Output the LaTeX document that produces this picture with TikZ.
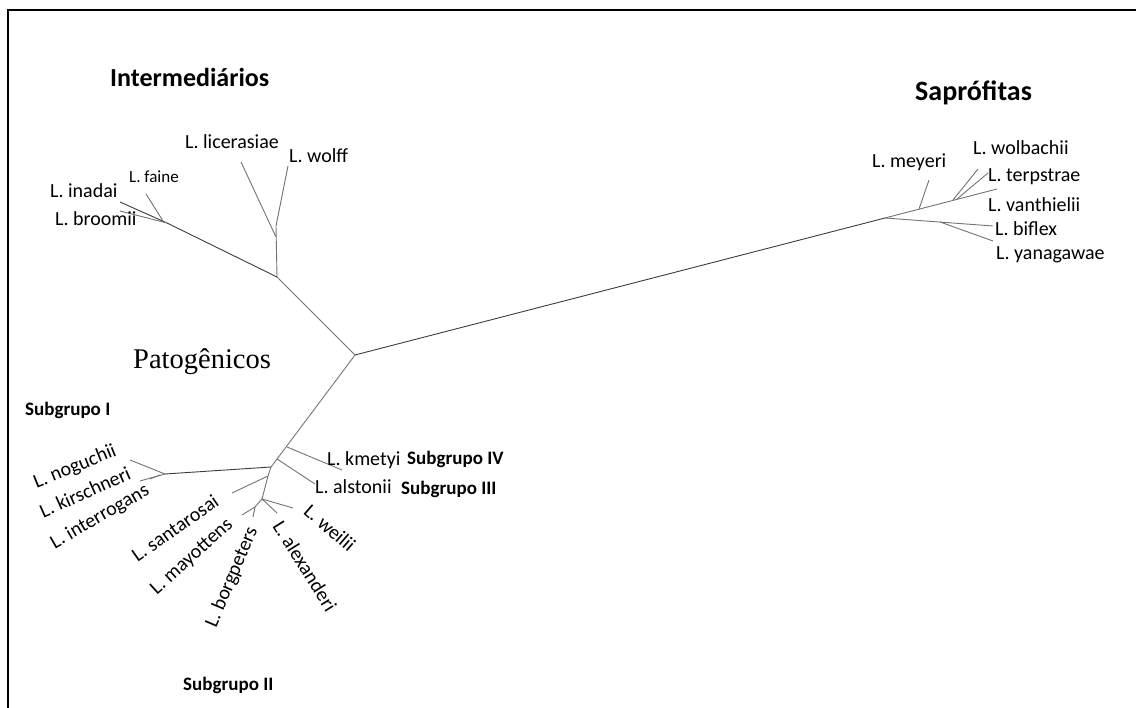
\documentclass[tikz,border=0pt]{standalone}
\usepackage{fontspec}
\setmainfont{Carlito}
\newfontfamily\serifttl{Liberation Serif}
\definecolor{treegray}{RGB}{115,115,115}
\definecolor{treedark}{RGB}{60,60,60}
\begin{document}
\begin{tikzpicture}[x=1pt,y=-1pt,
  br/.style={draw=treegray, line width=0.9pt},
  brd/.style={draw=treedark, line width=0.9pt},
  lab/.style={inner sep=0pt, font=\fontsize{20}{24}\selectfont},
  labs/.style={inner sep=0pt, font=\fontsize{17}{20}\selectfont},
  grp/.style={inner sep=0pt, font=\fontsize{26}{30}\selectfont\bfseries, anchor=west},
  sub/.style={inner sep=0pt, font=\fontsize{19}{22}\selectfont\bfseries, anchor=west},
  frame/.style={draw=black, line width=2pt}
]
\useasboundingbox (0,0) rectangle (1136,708);
% frame
\coordinate (fTL) at (8,10);
\coordinate (fTR) at (1136,10);
\coordinate (fBL) at (8,708);
\draw[frame] (fBL) -- (fTL) -- (fTR);

% ---------- tree coordinates ----------
\coordinate (C) at (355,355);
% saprofitas
\coordinate (S0) at (885,218);
\coordinate (Sm) at (919,209);
\coordinate (Sw) at (953,200);
\coordinate (St) at (957,199);
\coordinate (lvan) at (997,189);
\coordinate (lmey) at (929,180);
\coordinate (lwol) at (978,169);
\coordinate (lter) at (988,173);
\coordinate (Sy) at (940,222);
\coordinate (lbif) at (993,226);
\coordinate (lyan) at (993,241);
% intermediarios
\coordinate (N2) at (277,277);
\coordinate (Nl) at (276,237);
\coordinate (Nw) at (276,226);
\coordinate (llic) at (241,162);
\coordinate (lwoff) at (288,166);
\coordinate (N3) at (167,223);
\coordinate (lina) at (120,202);
\coordinate (lbro) at (120,211);
\coordinate (Nf) at (163,221);
\coordinate (lfai) at (146,194);
% patogenicos
\coordinate (Pk) at (287,447);
\coordinate (Pa) at (277,459);
\coordinate (A) at (271,467);
\coordinate (lkme) at (342,470);
\coordinate (lals) at (315,484);
\coordinate (I0) at (165,474);
\coordinate (I1) at (160,475);
\coordinate (lnog) at (130,460);
\coordinate (lkir) at (140,481);
\coordinate (lint) at (150,479);
\coordinate (P2) at (268,476);
\coordinate (lsan) at (232,493);
\coordinate (B) at (262,499);
\coordinate (lwei) at (293,508);
\coordinate (lale) at (277,513);
\coordinate (D) at (255,507);
\coordinate (lmay) at (242,515);
\coordinate (lbor) at (253,517);

% ---------- branches ----------
\draw[brd] (C) -- (S0);
\draw[br] (S0) -- (lvan);
\draw[br] (Sm) -- (lmey);
\draw[br] (Sw) -- (lwol);
\draw[br] (St) -- (lter);
\draw[br] (S0) -- (lbif);
\draw[br] (Sy) -- (lyan);

\draw[br] (C) -- (N2);
\draw[br] (N2) -- (Nw);
\draw[br] (Nl) -- (llic);
\draw[br] (Nw) -- (lwoff);
\draw[brd] (N2) -- (N3);
\draw[brd] (N3) -- (lina);
\draw[br] (N3) -- (lbro);
\draw[br] (Nf) -- (lfai);

\draw[br] (C) -- (A);
\draw[br] (Pk) -- (lkme);
\draw[br] (Pa) -- (lals);
\draw[brd] (A) -- (I0);
\draw[br] (I0) -- (lnog);
\draw[br] (I0) -- (lkir);
\draw[br] (I1) -- (lint);
\draw[br] (A) -- (P2) -- (B);
\draw[br] (P2) -- (lsan);
\draw[br] (B) -- (lwei);
\draw[br] (B) -- (lale);
\draw[br] (B) -- (D);
\draw[br] (D) -- (lmay);
\draw[br] (D) -- (lbor);

% ---------- group titles ----------
\node[grp] (tInt) at (110,77) {Intermediários};
\node[grp, font=\fontsize{28}{32}\selectfont\bfseries] (tSap) at (915,93) {Saprófitas};
\node[inner sep=0pt, anchor=west, font=\serifttl\fontsize{28.5}{32}\selectfont] (tPat) at (133,362) {Patogênicos};
\node[sub] (sI) at (25,410) {Subgrupo I};
\node[sub] (sII) at (183,685) {Subgrupo II};
\node[sub] (sIII) at (401,489) {Subgrupo III};
\node[sub] (sIV) at (407,459) {Subgrupo IV};

% ---------- leaf labels ----------
\node[lab, anchor=west] (tlic) at (185,142) {L. licerasiae};
\node[lab, anchor=west] (twoff) at (289,156) {L. wolff};
\node[labs, anchor=west] (tfai) at (129,177) {L. faine};
\node[lab, anchor=west] (tina) at (50,191) {L. inadai};
\node[lab, anchor=west] (tbro) at (55,219) {L. broomii};

\node[lab, anchor=west] (tmey) at (872,162) {L. meyeri};
\node[lab, anchor=west] (twol) at (973,148) {L. wolbachii};
\node[lab, anchor=west] (tter) at (988,177) {L. terpstrae};
\node[lab, anchor=west] (tvan) at (988,205) {L. vanthielii};
\node[lab, anchor=west] (tbif) at (995,229) {L. biflex};
\node[lab, anchor=west] (tyan) at (996,255) {L. yanagawae};

\node[lab, anchor=west] (tkme) at (327,460) {L. kmetyi};
\node[lab, anchor=west] (tals) at (315,487) {L. alstonii};

\node[lab, rotate=22] (tnog) at (75,467) {L. noguchii};
\node[lab, rotate=24] (tkir) at (85,492) {L. kirschneri};
\node[lab, rotate=30] (tint) at (100,517) {L. interrogans};
\node[lab, rotate=35] (tsan) at (175,528) {L. santarosai};
\node[lab, rotate=42] (tmay) at (192,557) {L. mayottens};
\node[lab, rotate=67] (tbor) at (232,577) {L. borgpeters};
\node[lab, rotate=-58] (tale) at (305,566) {L. alexanderi};
\node[lab, rotate=-41] (twei) at (330,528) {L. weilii};
\end{tikzpicture}
\end{document}
